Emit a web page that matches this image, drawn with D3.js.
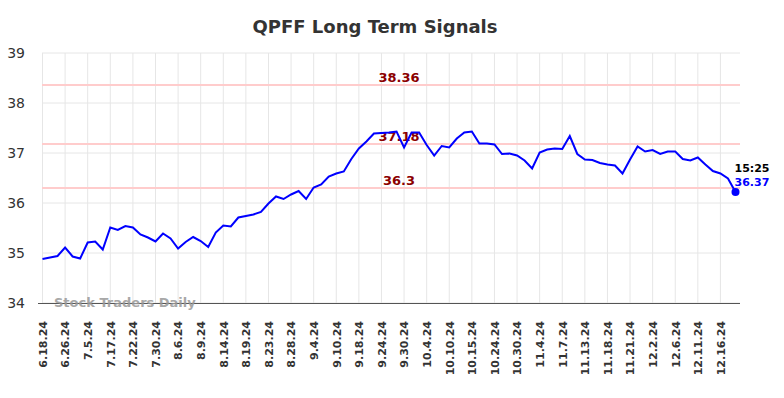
<!DOCTYPE html>
<html>
<head>
<meta charset="utf-8">
<script src="https://cdn.jsdelivr.net/npm/d3@7"></script>
<style>
  body { margin: 0; background: #fff; }
  svg { display: block; font-family: "DejaVu Sans", sans-serif; }
</style>
</head>
<body>
<svg class="chart" width="784" height="398"></svg>
<script>
// dates of the tick labels (one every 3 trading days)
const tickLabels = [
  "6.18.24", "6.26.24", "7.5.24", "7.17.24", "7.22.24", "7.30.24", "8.6.24",
  "8.9.24", "8.14.24", "8.19.24", "8.23.24", "8.28.24", "9.4.24", "9.10.24",
  "9.18.24", "9.24.24", "9.30.24", "10.4.24", "10.10.24", "10.15.24",
  "10.24.24", "10.30.24", "11.4.24", "11.7.24", "11.13.24", "11.18.24",
  "11.21.24", "12.2.24", "12.6.24", "12.11.24", "12.16.24"
];

// closing prices
const prices = [
  34.88, 34.91, 34.94, 35.11, 34.93, 34.89, 35.21, 35.23, 35.07, 35.51,
  35.46, 35.54, 35.51, 35.37, 35.31, 35.23, 35.39, 35.29, 35.09, 35.22,
  35.32, 35.24, 35.12, 35.41, 35.55, 35.53, 35.71, 35.74, 35.77, 35.82,
  35.99, 36.13, 36.08, 36.17, 36.24, 36.08, 36.31, 36.37, 36.53, 36.59,
  36.63, 36.88, 37.09, 37.23, 37.39, 37.40, 37.41, 37.43, 37.11, 37.41,
  37.41, 37.16, 36.95, 37.14, 37.11, 37.29, 37.41, 37.43, 37.19, 37.19,
  37.17, 36.98, 36.99, 36.95, 36.85, 36.69, 37.01, 37.07, 37.09, 37.08,
  37.34, 36.98, 36.87, 36.86, 36.80, 36.77, 36.75, 36.59, 36.87, 37.13,
  37.03, 37.06, 36.98, 37.03, 37.03, 36.88, 36.85, 36.91, 36.77, 36.64,
  36.59, 36.49, 36.22
];

const signalLevels = [38.36, 37.18, 36.3];
const yTicks = [34, 35, 36, 37, 38, 39];
const lastTime = "15:25";
const lastLabel = "36.37";
const tickEvery = 3;

const margin = { top: 53, right: 44, bottom: 95, left: 42 };
const width = 784 - margin.left - margin.right;
const height = 398 - margin.top - margin.bottom;

const svg = d3.select(".chart");

svg.append("text")
  .attr("x", 375)
  .attr("y", 33)
  .attr("text-anchor", "middle")
  .attr("font-size", 18)
  .attr("font-weight", "bold")
  .attr("fill", "#333")
  .text("QPFF Long Term Signals");

const g = svg.append("g")
  .attr("transform", `translate(${margin.left},${margin.top})`);

const x = d3.scaleLinear()
  .domain([0, prices.length - 1])
  .range([0.5, 693.5]);

const y = d3.scaleLinear().domain([34, 39]).range([height, 0]);

// grid
g.append("g")
  .selectAll("line")
  .data(yTicks)
  .join("line")
  .attr("x1", 0)
  .attr("x2", width)
  .attr("y1", (d) => y(d))
  .attr("y2", (d) => y(d))
  .attr("stroke", "#e6e6e6");

g.append("g")
  .selectAll("line")
  .data(tickLabels)
  .join("line")
  .attr("x1", (d, i) => x(i * tickEvery))
  .attr("x2", (d, i) => x(i * tickEvery))
  .attr("y1", 0)
  .attr("y2", height)
  .attr("stroke", "#e6e6e6");

// y axis labels
const yAxis = g.append("g")
  .call(d3.axisLeft(y).tickValues(yTicks).tickSize(0).tickPadding(17).tickFormat(d3.format("d")));
yAxis.select(".domain").remove();
yAxis.selectAll("text")
  .attr("font-size", 14)
  .attr("font-family", "DejaVu Sans, sans-serif")
  .attr("fill", "#333");

// x axis
const xAxis = g.append("g")
  .attr("transform", `translate(0,${height})`)
  .call(
    d3.axisBottom(x)
      .tickValues(tickLabels.map((d, i) => i * tickEvery))
      .tickSize(0)
      .tickFormat((d) => tickLabels[d / tickEvery])
  );
xAxis.select(".domain").attr("stroke", "#555").attr("stroke-width", 1.2)
  .attr("d", `M-4,0.5H${width}`);
xAxis.selectAll("text")
  .attr("font-size", 11)
  .attr("font-weight", "bold")
  .attr("font-family", "DejaVu Sans, sans-serif")
  .attr("fill", "#333")
  .attr("text-anchor", "end")
  .attr("transform", "rotate(-90)")
  .attr("x", -18)
  .attr("y", 0)
  .attr("dy", "0.35em");

// signal levels
signalLevels.forEach((level) => {
  g.append("line")
    .attr("x1", 0)
    .attr("x2", width)
    .attr("y1", y(level))
    .attr("y2", y(level))
    .attr("stroke", "#ffcccc")
    .attr("stroke-width", 2);
  g.append("text")
    .attr("x", 357)
    .attr("y", y(level) - 3)
    .attr("text-anchor", "middle")
    .attr("font-size", 13)
    .attr("font-weight", "bold")
    .attr("fill", "#8b0000")
    .text(level);
});

// watermark
g.append("text")
  .attr("x", 12)
  .attr("y", height + 4)
  .attr("font-size", 13)
  .attr("font-weight", "bold")
  .attr("fill", "#999")
  .attr("opacity", 0.85)
  .text("Stock Traders Daily");

// price line
g.append("path")
  .datum(prices)
  .attr("fill", "none")
  .attr("stroke", "#0000ff")
  .attr("stroke-width", 2)
  .attr("d", d3.line().x((d, i) => x(i)).y((d) => y(d)));

const lastIdx = prices.length - 1;
g.append("circle")
  .attr("cx", x(lastIdx))
  .attr("cy", y(prices[lastIdx]))
  .attr("r", 4)
  .attr("fill", "#0000ff");

g.append("text")
  .attr("x", x(lastIdx) - 1)
  .attr("y", y(prices[lastIdx]) - 20)
  .attr("font-size", 11)
  .attr("font-weight", "bold")
  .attr("fill", "#000")
  .text(lastTime);

g.append("text")
  .attr("x", x(lastIdx) - 1)
  .attr("y", y(prices[lastIdx]) - 6)
  .attr("font-size", 11)
  .attr("font-weight", "bold")
  .attr("fill", "#0000ff")
  .text(lastLabel);
</script>
</body>
</html>
